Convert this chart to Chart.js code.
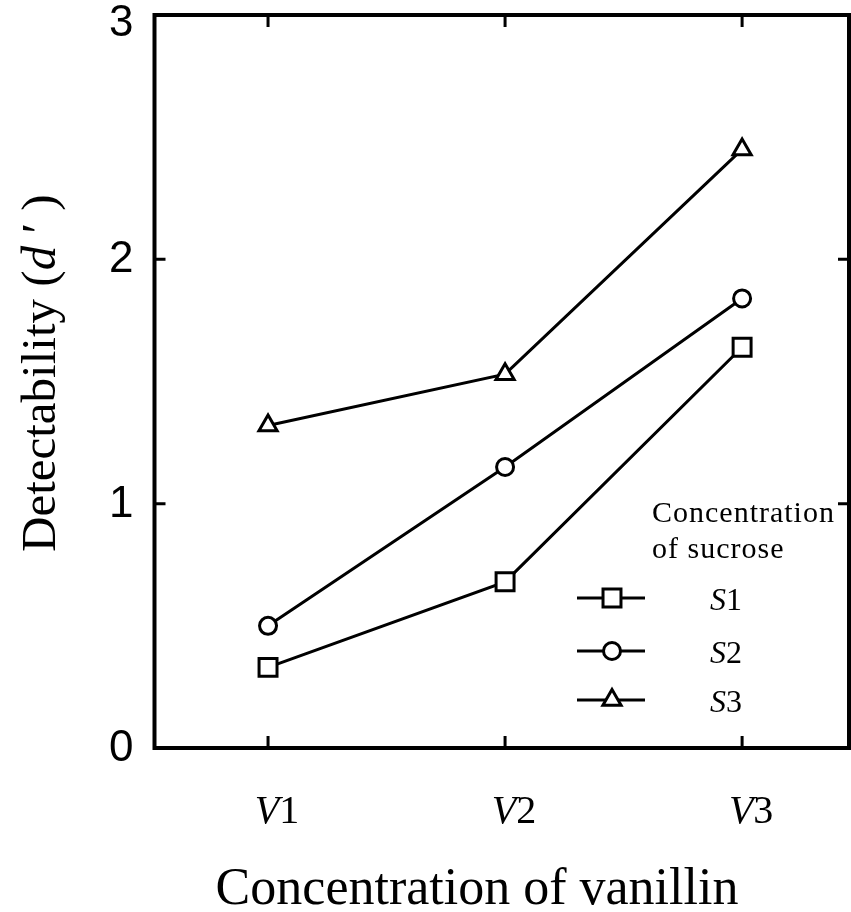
<!DOCTYPE html>
<html>
<head>
<meta charset="utf-8">
<script src="https://cdn.jsdelivr.net/npm/chart.js@4"></script>
<style>
  html, body { margin: 0; padding: 0; background: #fff; overflow: hidden; }
  #wrap { width: 851px; height: 912px; }
  canvas { display: block; }
</style>
</head>
<body>
<div id="wrap"><canvas id="detect"></canvas></div>
<script>
// vanillin levels (x) and sucrose series (d')
const vanillinLevels = [1, 2, 3];
const vanillinLabels = ['1', '2', '3'];
const yTicks = [0, 1, 2, 3];
const seriesNames = ['1', '2', '3'];
const s1Values = [0.33, 0.68, 1.64];
const s2Values = [0.50, 1.15, 1.84];
const s3Values = [1.32, 1.53, 2.45];
const pointStyles = ['rect', 'circle', 'triangle'];
const pointSizes = [12.7, 8.5, 10.5];

const SERIF = '"Liberation Serif", "Times New Roman", serif';
const SANS = '"Liberation Sans", Arial, sans-serif';

function makeSet(name, values, i) {
    return {
        label: 'S' + name,
        data: values.map((v, k) => ({ x: vanillinLevels[k], y: v })),
        borderColor: '#000',
        borderWidth: 3,
        pointStyle: pointStyles[i],
        pointRadius: pointSizes[i],
        pointBorderWidth: 3,
        pointBackgroundColor: '#fff',
        pointBorderColor: '#000',
        tension: 0
    };
}

// draws frame, inward ticks, tick labels, titles and legend
const framePlugin = {
    id: 'frame',
    afterDatasetsDraw(chart) {
        const ctx = chart.ctx;
        const a = chart.chartArea;
        const xs = chart.scales.x;
        const ys = chart.scales.y;
        ctx.save();
        ctx.strokeStyle = '#000';
        ctx.fillStyle = '#000';

        // box
        ctx.lineWidth = 4;
        ctx.strokeRect(a.left, a.top, a.right - a.left, a.bottom - a.top);

        // inward ticks
        ctx.lineWidth = 3;
        ctx.beginPath();
        vanillinLevels.forEach(v => {
            const px = xs.getPixelForValue(v);
            ctx.moveTo(px, a.bottom); ctx.lineTo(px, a.bottom - 12);
            ctx.moveTo(px, a.top); ctx.lineTo(px, a.top + 12);
        });
        yTicks.slice(1, -1).forEach(v => {
            const py = ys.getPixelForValue(v);
            ctx.moveTo(a.left, py); ctx.lineTo(a.left + 11, py);
            ctx.moveTo(a.right, py); ctx.lineTo(a.right - 11, py);
        });
        ctx.stroke();

        // y tick labels (top one kept inside the canvas)
        ctx.font = '44px ' + SANS;
        ctx.textAlign = 'right';
        ctx.textBaseline = 'middle';
        yTicks.forEach(v => {
            const py = Math.max(ys.getPixelForValue(v) + 1, 24);
            ctx.fillText(String(v), a.left - 21, py);
        });

        // x tick labels: italic V + roman digit
        ctx.textAlign = 'left';
        ctx.textBaseline = 'alphabetic';
        vanillinLevels.forEach((v, i) => {
            const px = xs.getPixelForValue(v) + 9;
            ctx.font = 'italic 40px ' + SERIF;
            const wv = ctx.measureText('V').width;
            ctx.font = '40px ' + SERIF;
            const wd = ctx.measureText(vanillinLabels[i]).width;
            const x0 = px - (wv + wd) / 2;
            ctx.font = 'italic 40px ' + SERIF;
            ctx.fillText('V', x0, 823);
            ctx.font = '40px ' + SERIF;
            ctx.fillText(vanillinLabels[i], x0 + wv, 823);
        });

        // x title
        ctx.font = '52px ' + SERIF;
        ctx.textAlign = 'center';
        ctx.fillText('Concentration of vanillin', 477, 904);

        // y title, rotated
        ctx.save();
        ctx.translate(55, 552);
        ctx.rotate(-Math.PI / 2);
        ctx.textAlign = 'left';
        let cx = 0;
        const parts = [['Detectability (', ''], ['d', 'italic '], [' \u2032 )', '']];
        parts.forEach(p => {
            ctx.font = p[1] + '49px ' + SERIF;
            ctx.fillText(p[0], cx, 0);
            cx += ctx.measureText(p[0]).width;
        });
        ctx.restore();

        // legend
        ctx.textAlign = 'left';
        ctx.font = '30px ' + SERIF;
        ctx.letterSpacing = '1px';
        ctx.fillText('Concentration', 652, 522);
        ctx.fillText('of sucrose', 652, 558);
        ctx.letterSpacing = '0px';
        const rowY = [598, 651, 700];
        chart.data.datasets.forEach((ds, i) => {
            const y = rowY[i];
            ctx.lineWidth = 3;
            ctx.beginPath();
            ctx.moveTo(577, y); ctx.lineTo(645, y);
            ctx.stroke();
            const r = ds.pointRadius;
            const mx = 612;
            ctx.beginPath();
            if (ds.pointStyle === 'rect') {
                const s = r * Math.SQRT1_2;
                ctx.rect(mx - s, y - s, 2 * s, 2 * s);
            } else if (ds.pointStyle === 'circle') {
                ctx.arc(mx, y, r, 0, Math.PI * 2);
            } else {
                const h = r * Math.sin(Math.PI / 3);
                ctx.moveTo(mx, y - r);
                ctx.lineTo(mx + h, y + r / 2);
                ctx.lineTo(mx - h, y + r / 2);
                ctx.closePath();
            }
            ctx.fillStyle = '#fff';
            ctx.fill();
            ctx.stroke();
            ctx.fillStyle = '#000';
            ctx.font = 'italic 32px ' + SERIF;
            const ws = ctx.measureText('S').width;
            ctx.fillText('S', 710, y + 12);
            ctx.font = '32px ' + SERIF;
            ctx.fillText(seriesNames[i], 710 + ws, y + 12);
        });
        ctx.restore();
    }
};

new Chart(document.getElementById('detect'), {
    type: 'line',
    data: {
        datasets: [
            makeSet(seriesNames[0], s1Values, 0),
            makeSet(seriesNames[1], s2Values, 1),
            makeSet(seriesNames[2], s3Values, 2)
        ]
    },
    options: {
        responsive: true,
        maintainAspectRatio: false,
        animation: false,
        layout: {
            autoPadding: false,
            padding: { left: 154.5, right: 2, top: 15, bottom: 164 }
        },
        scales: {
            x: { type: 'linear', min: 0.521, max: 3.451, display: false },
            y: { type: 'linear', min: 0, max: 3, display: false }
        },
        plugins: {
            legend: { display: false },
            tooltip: { enabled: false }
        }
    },
    plugins: [framePlugin]
});
</script>
</body>
</html>
